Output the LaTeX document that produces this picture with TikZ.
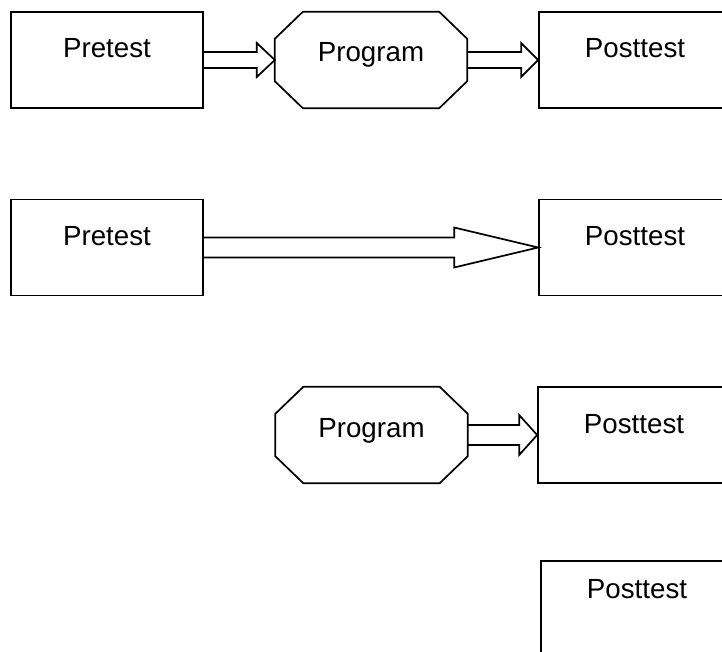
\documentclass[tikz,border=0pt]{standalone}
\usepackage{fontspec}
\setmainfont{Liberation Sans}
\usepackage{tikz}
\usetikzlibrary{calc}
\tikzset{
  testbox/.style={draw, rectangle, line width=1.7pt, inner xsep=0pt, inner ysep=0pt,
    minimum width=192pt, text height=46pt, text depth=50pt},
  progbox/.style={rectangle, inner xsep=0pt, inner ysep=0pt,
    minimum width=192pt, text height=50pt, text depth=46pt}
}
% octagon round a progbox node
\newcommand{\octagon}[1]{\draw[line width=1.7pt] ($(#1.north west)+(28,0)$) -- ($(#1.north east)+(-28,0)$) -- ($(#1.north east)+(0,27)$) -- ($(#1.south east)+(0,-27)$) -- ($(#1.south east)+(-28,0)$) -- ($(#1.south west)+(28,0)$) -- ($(#1.south west)+(0,-27)$) -- ($(#1.north west)+(0,27)$) -- cycle;}
% big hollow arrow: from, to, head length, half shaft, half head
\newcommand{\bigarrow}[5]{\draw[line width=1.7pt, line join=miter] ($(#1.east)+(0,#4)$) -- ($(#2.west)+(-#3,#4)$) -- ($(#2.west)+(-#3,#5)$) -- (#2.west) -- ($(#2.west)+(-#3,-#5)$) -- ($(#2.west)+(-#3,-#4)$) -- ($(#1.east)+(0,-#4)$);}

\begin{document}
\begin{tikzpicture}[x=1pt, y=-1pt, font=\fontsize{27.7}{32}\selectfont]
        \useasboundingbox (0,0) rectangle (722,652);
        \clip (0,0) rectangle (722,652);
        % row 1
        \node[testbox] (pre1) at (107,60) {Pretest};
        \node[progbox] (prog1) at (371,60) {Program};
        \octagon{prog1}
        \node[testbox] (post1) at (635,60) {Posttest};
        \bigarrow{pre1}{prog1}{18}{8}{17}
        \bigarrow{prog1}{post1}{17}{8}{17}
        % row 2
        \node[testbox] (pre2) at (107,247.5) {Pretest};
        \node[testbox] (post2) at (635,247.5) {Posttest};
        \bigarrow{pre2}{post2}{84}{10}{20}
        % row 3
        \node[progbox] (prog3) at (371.5,435) {Program};
        \octagon{prog3}
        \node[testbox] (post3) at (634,435) {Posttest};
        \bigarrow{prog3}{post3}{18}{10}{20}
        % row 4
        \node[testbox, text height=37pt, text depth=59pt] (post4) at (637,609) {Posttest};
\end{tikzpicture}
\end{document}
